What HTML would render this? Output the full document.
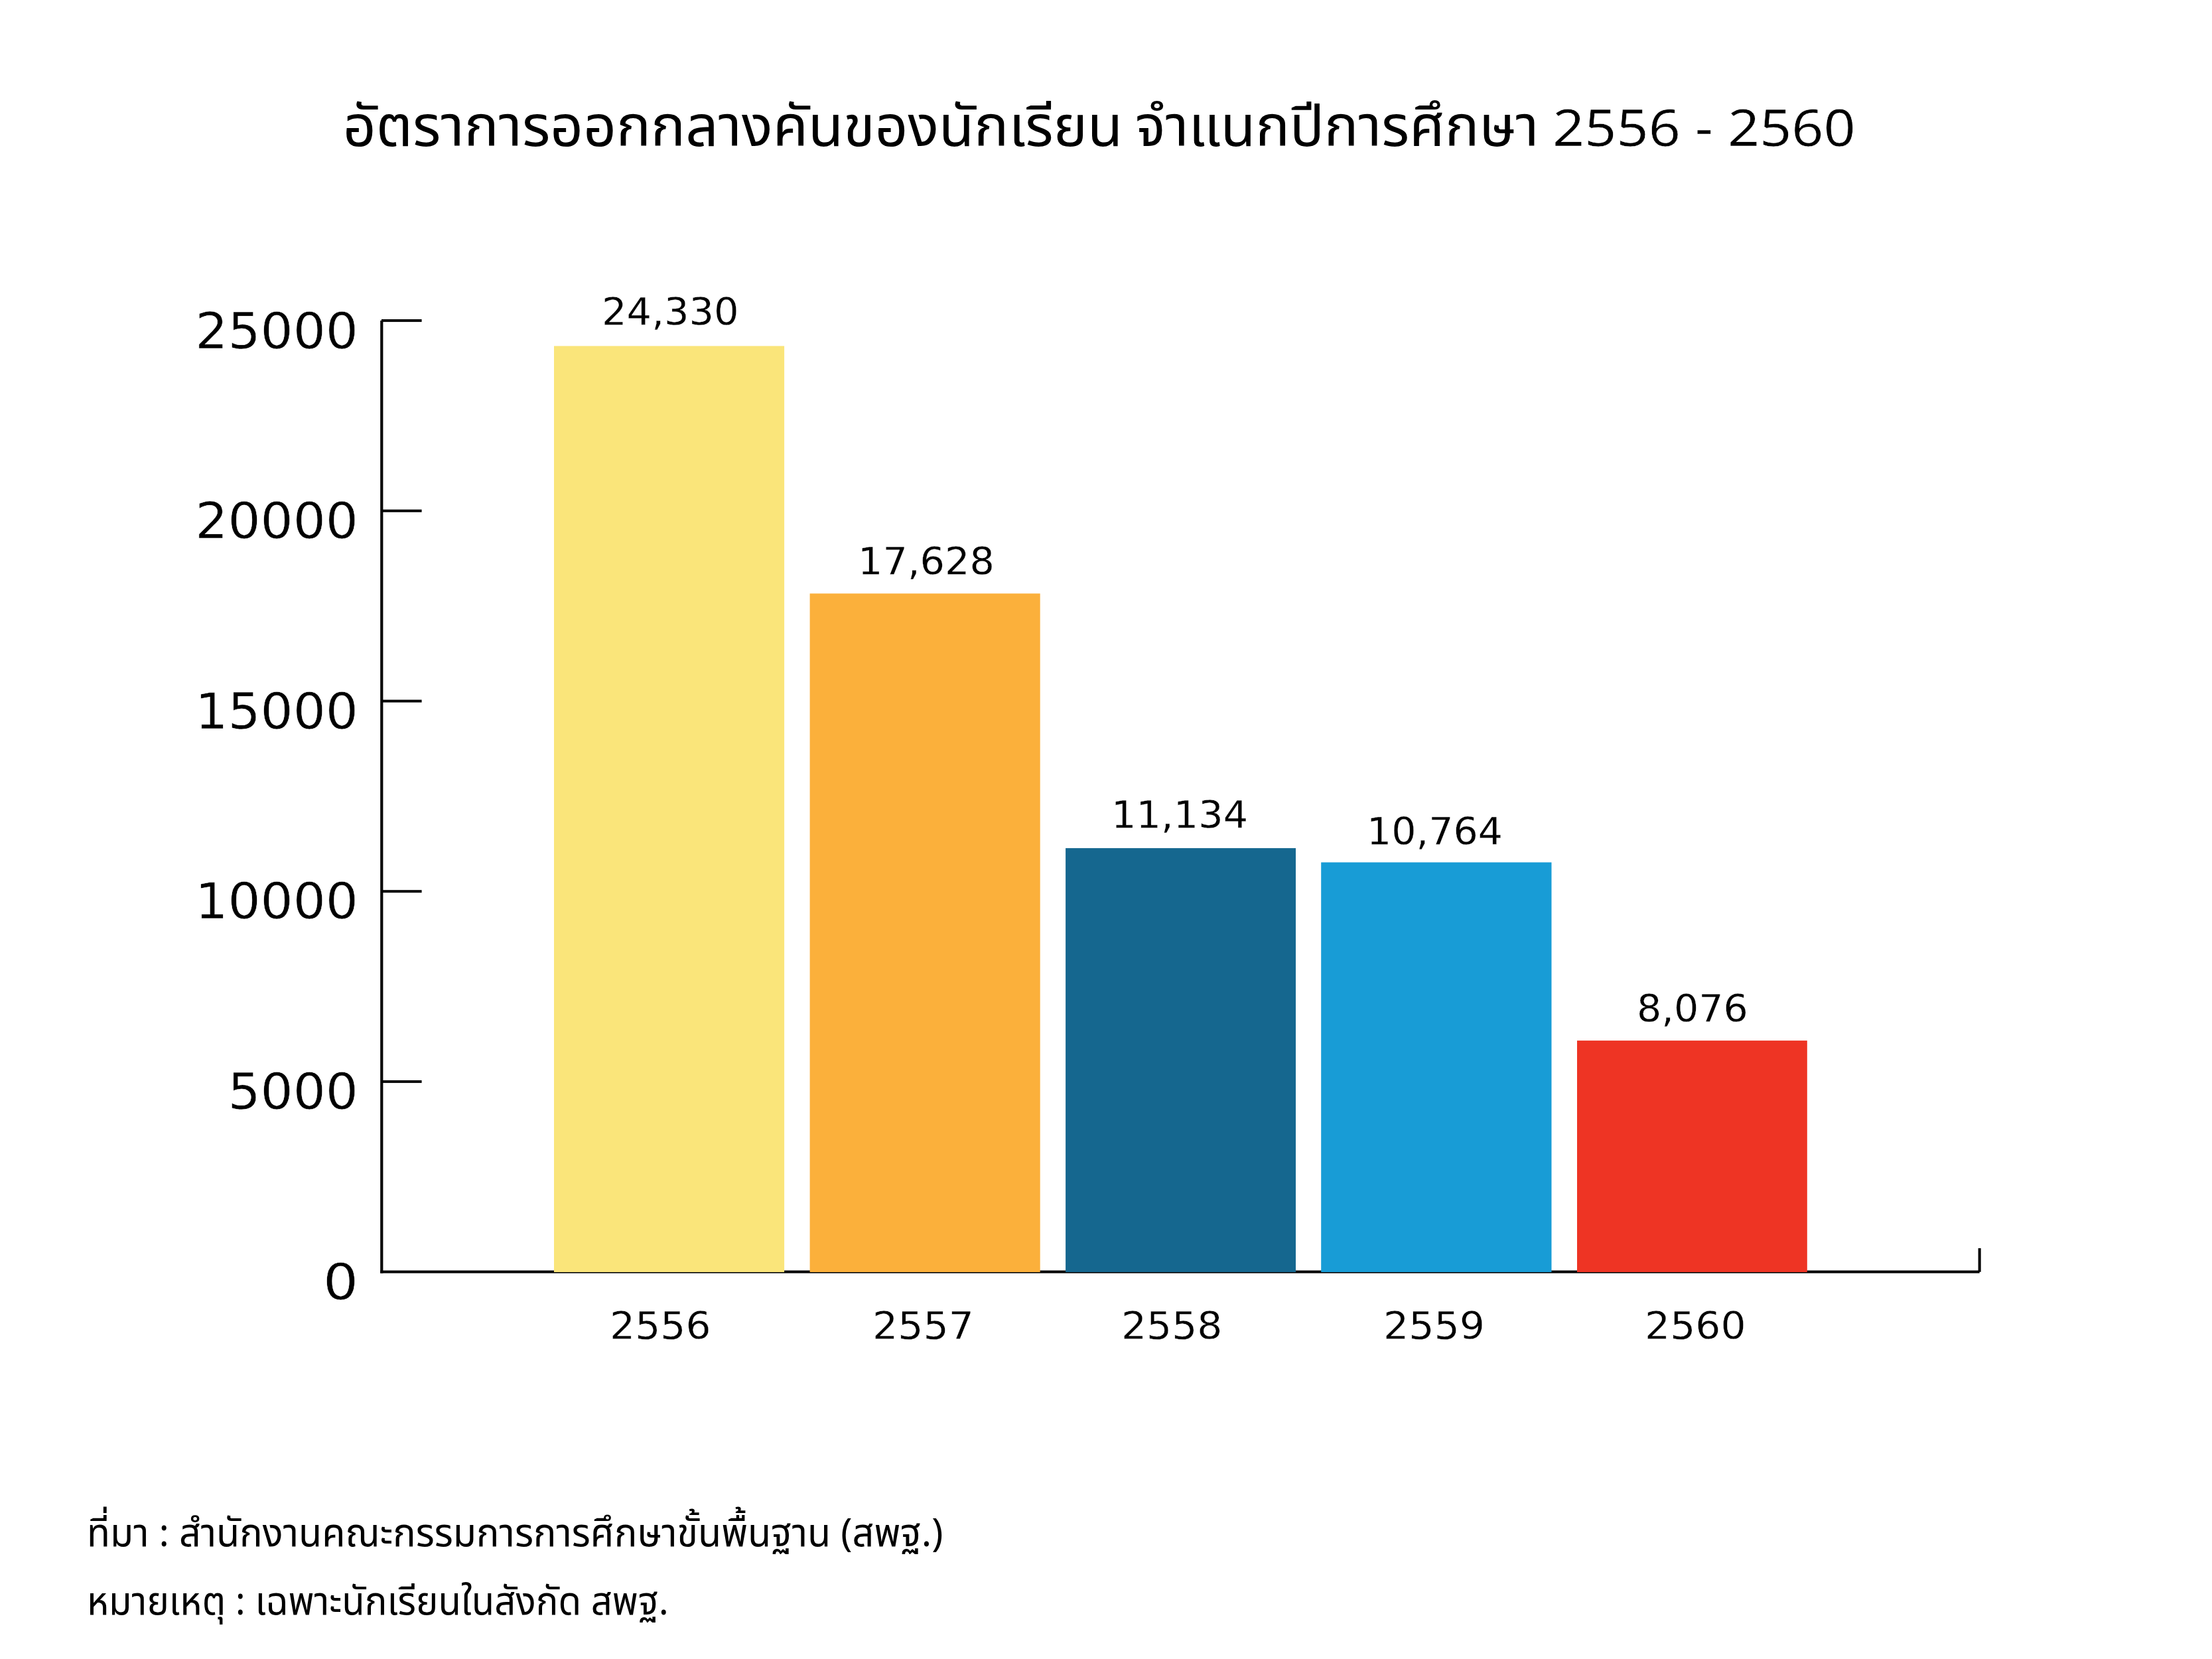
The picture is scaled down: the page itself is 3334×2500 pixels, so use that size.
<!DOCTYPE html>
<html lang="th">
<head>
<meta charset="utf-8">
<title>อัตราการออกกลางคันของนักเรียน จำแนกปีการศึกษา 2556 - 2560</title>
<style>
html,body{margin:0;padding:0;background:#fff;}
body{width:3334px;height:2500px;position:relative;overflow:hidden;}
svg.g{position:absolute;left:0;top:0;}
.t{position:absolute;white-space:nowrap;line-height:1;color:#000;transform-origin:0 0;margin:0;font-weight:normal;}
.th{font-family:"Noto Sans Thai","Noto Sans Thai UI","Leelawadee UI","Leelawadee","IBM Plex Sans Thai","Anuphan","Sarabun","Waree","Loma","Garuda","Liberation Sans","Noto Sans CJK SC",sans-serif;}
.dv{font-family:"DejaVu Sans","Bitstream Vera Sans","Verdana","Liberation Sans",sans-serif;}
.tc{-webkit-text-stroke:0.6px #fff;}
.yl{-webkit-text-stroke:0.5px #fff;transform-origin:100% 0;text-align:right;width:300px;}
.xl{-webkit-text-stroke:0.4px #fff;}
.vl{-webkit-text-stroke:0.3px #fff;}
</style>
</head>
<body>
<svg class="g" width="3334" height="2500" viewBox="0 0 3334 2500">
  <rect x="573.2" y="483" width="4.2" height="1435.6" fill="#000"/>
  <rect x="573.2" y="1914.5" width="2410.4" height="4.1" fill="#000"/>
  <rect x="2981.6" y="1881" width="4.1" height="35.7" fill="#000"/>
  <rect x="575" y="481.1" width="60.6" height="4" fill="#000"/>
  <rect x="575" y="767.8" width="60.6" height="4" fill="#000"/>
  <rect x="575" y="1054.5" width="60.6" height="4" fill="#000"/>
  <rect x="575" y="1341.2" width="60.6" height="4" fill="#000"/>
  <rect x="575" y="1627.9" width="60.6" height="4" fill="#000"/>
  <rect x="835" y="521.4" width="347.1" height="1395.6" fill="#FAE57A"/>
  <rect x="1220.6" y="894.4" width="347.1" height="1022.6" fill="#FBB03B"/>
  <rect x="1606.1" y="1278.1" width="346.9" height="638.9" fill="#15678F"/>
  <rect x="1991.2" y="1299.5" width="347.3" height="617.5" fill="#189CD6"/>
  <rect x="2377" y="1568.1" width="346.8" height="348.9" fill="#EE3424"/>
</svg>
<h1 style="margin:0;font-weight:normal;font-size:inherit;"><span class="t th" style="left:517.21px;top:151.10px;font-size:85.5px;transform:scaleX(1.0154);">อัตราการออกกลางคันของนักเรียน</span><span class="t th" style="left:1710.59px;top:151.10px;font-size:85.5px;transform:scaleX(1.0043);"> จำแนกปีการศึกษา</span><span class="t th tc" style="left:2340.00px;top:158.30px;font-size:77px;transform:scaleX(1.0950);"> 2556 - 2560</span></h1>
<div class="t dv yl" style="left:239.62px;top:462.90px;font-size:74.5px;transform:scaleX(1.0365);">25000</div>
<div class="t dv yl" style="left:239.62px;top:749.20px;font-size:74.5px;transform:scaleX(1.0365);">20000</div>
<div class="t dv yl" style="left:239.62px;top:1035.50px;font-size:74.5px;transform:scaleX(1.0365);">15000</div>
<div class="t dv yl" style="left:239.62px;top:1322.20px;font-size:74.5px;transform:scaleX(1.0365);">10000</div>
<div class="t dv yl" style="left:239.62px;top:1608.90px;font-size:74.5px;transform:scaleX(1.0365);">5000</div>
<div class="t dv yl" style="left:239.77px;top:1896.20px;font-size:74.5px;transform:scaleX(1.1183);">0</div>
<div class="t dv vl" style="left:906.67px;top:441.80px;font-size:56.6px;transform:scaleX(1.0435);">24,330</div>
<div class="t dv vl" style="left:1293.38px;top:817.70px;font-size:56.6px;transform:scaleX(1.0402);">17,628</div>
<div class="t dv vl" style="left:1674.80px;top:1199.90px;font-size:56.6px;transform:scaleX(1.0411);">11,134</div>
<div class="t dv vl" style="left:2060.34px;top:1224.70px;font-size:56.6px;transform:scaleX(1.0356);">10,764</div>
<div class="t dv vl" style="left:2467.32px;top:1491.80px;font-size:56.6px;transform:scaleX(1.0351);">8,076</div>
<div class="t dv xl" style="left:919.05px;top:1970.30px;font-size:57.3px;transform:scaleX(1.0460);">2556</div>
<div class="t dv xl" style="left:1314.85px;top:1970.30px;font-size:57.3px;transform:scaleX(1.0490);">2557</div>
<div class="t dv xl" style="left:1689.87px;top:1970.30px;font-size:57.3px;transform:scaleX(1.0458);">2558</div>
<div class="t dv xl" style="left:2084.83px;top:1970.30px;font-size:57.3px;transform:scaleX(1.0504);">2559</div>
<div class="t dv xl" style="left:2479.04px;top:1970.30px;font-size:57.3px;transform:scaleX(1.0462);">2560</div>
<p class="t th" style="left:131.40px;top:2283.10px;font-size:59px;transform:scaleX(0.9741);">ที่มา : สำนักงานคณะกรรมการการศึกษาขั้นพื้นฐาน (สพฐ.)</p>
<p class="t th" style="left:130.90px;top:2385.50px;font-size:59px;transform:scaleX(0.9532);">หมายเหตุ : เฉพาะนักเรียนในสังกัด สพฐ.</p>
</body>
</html>
